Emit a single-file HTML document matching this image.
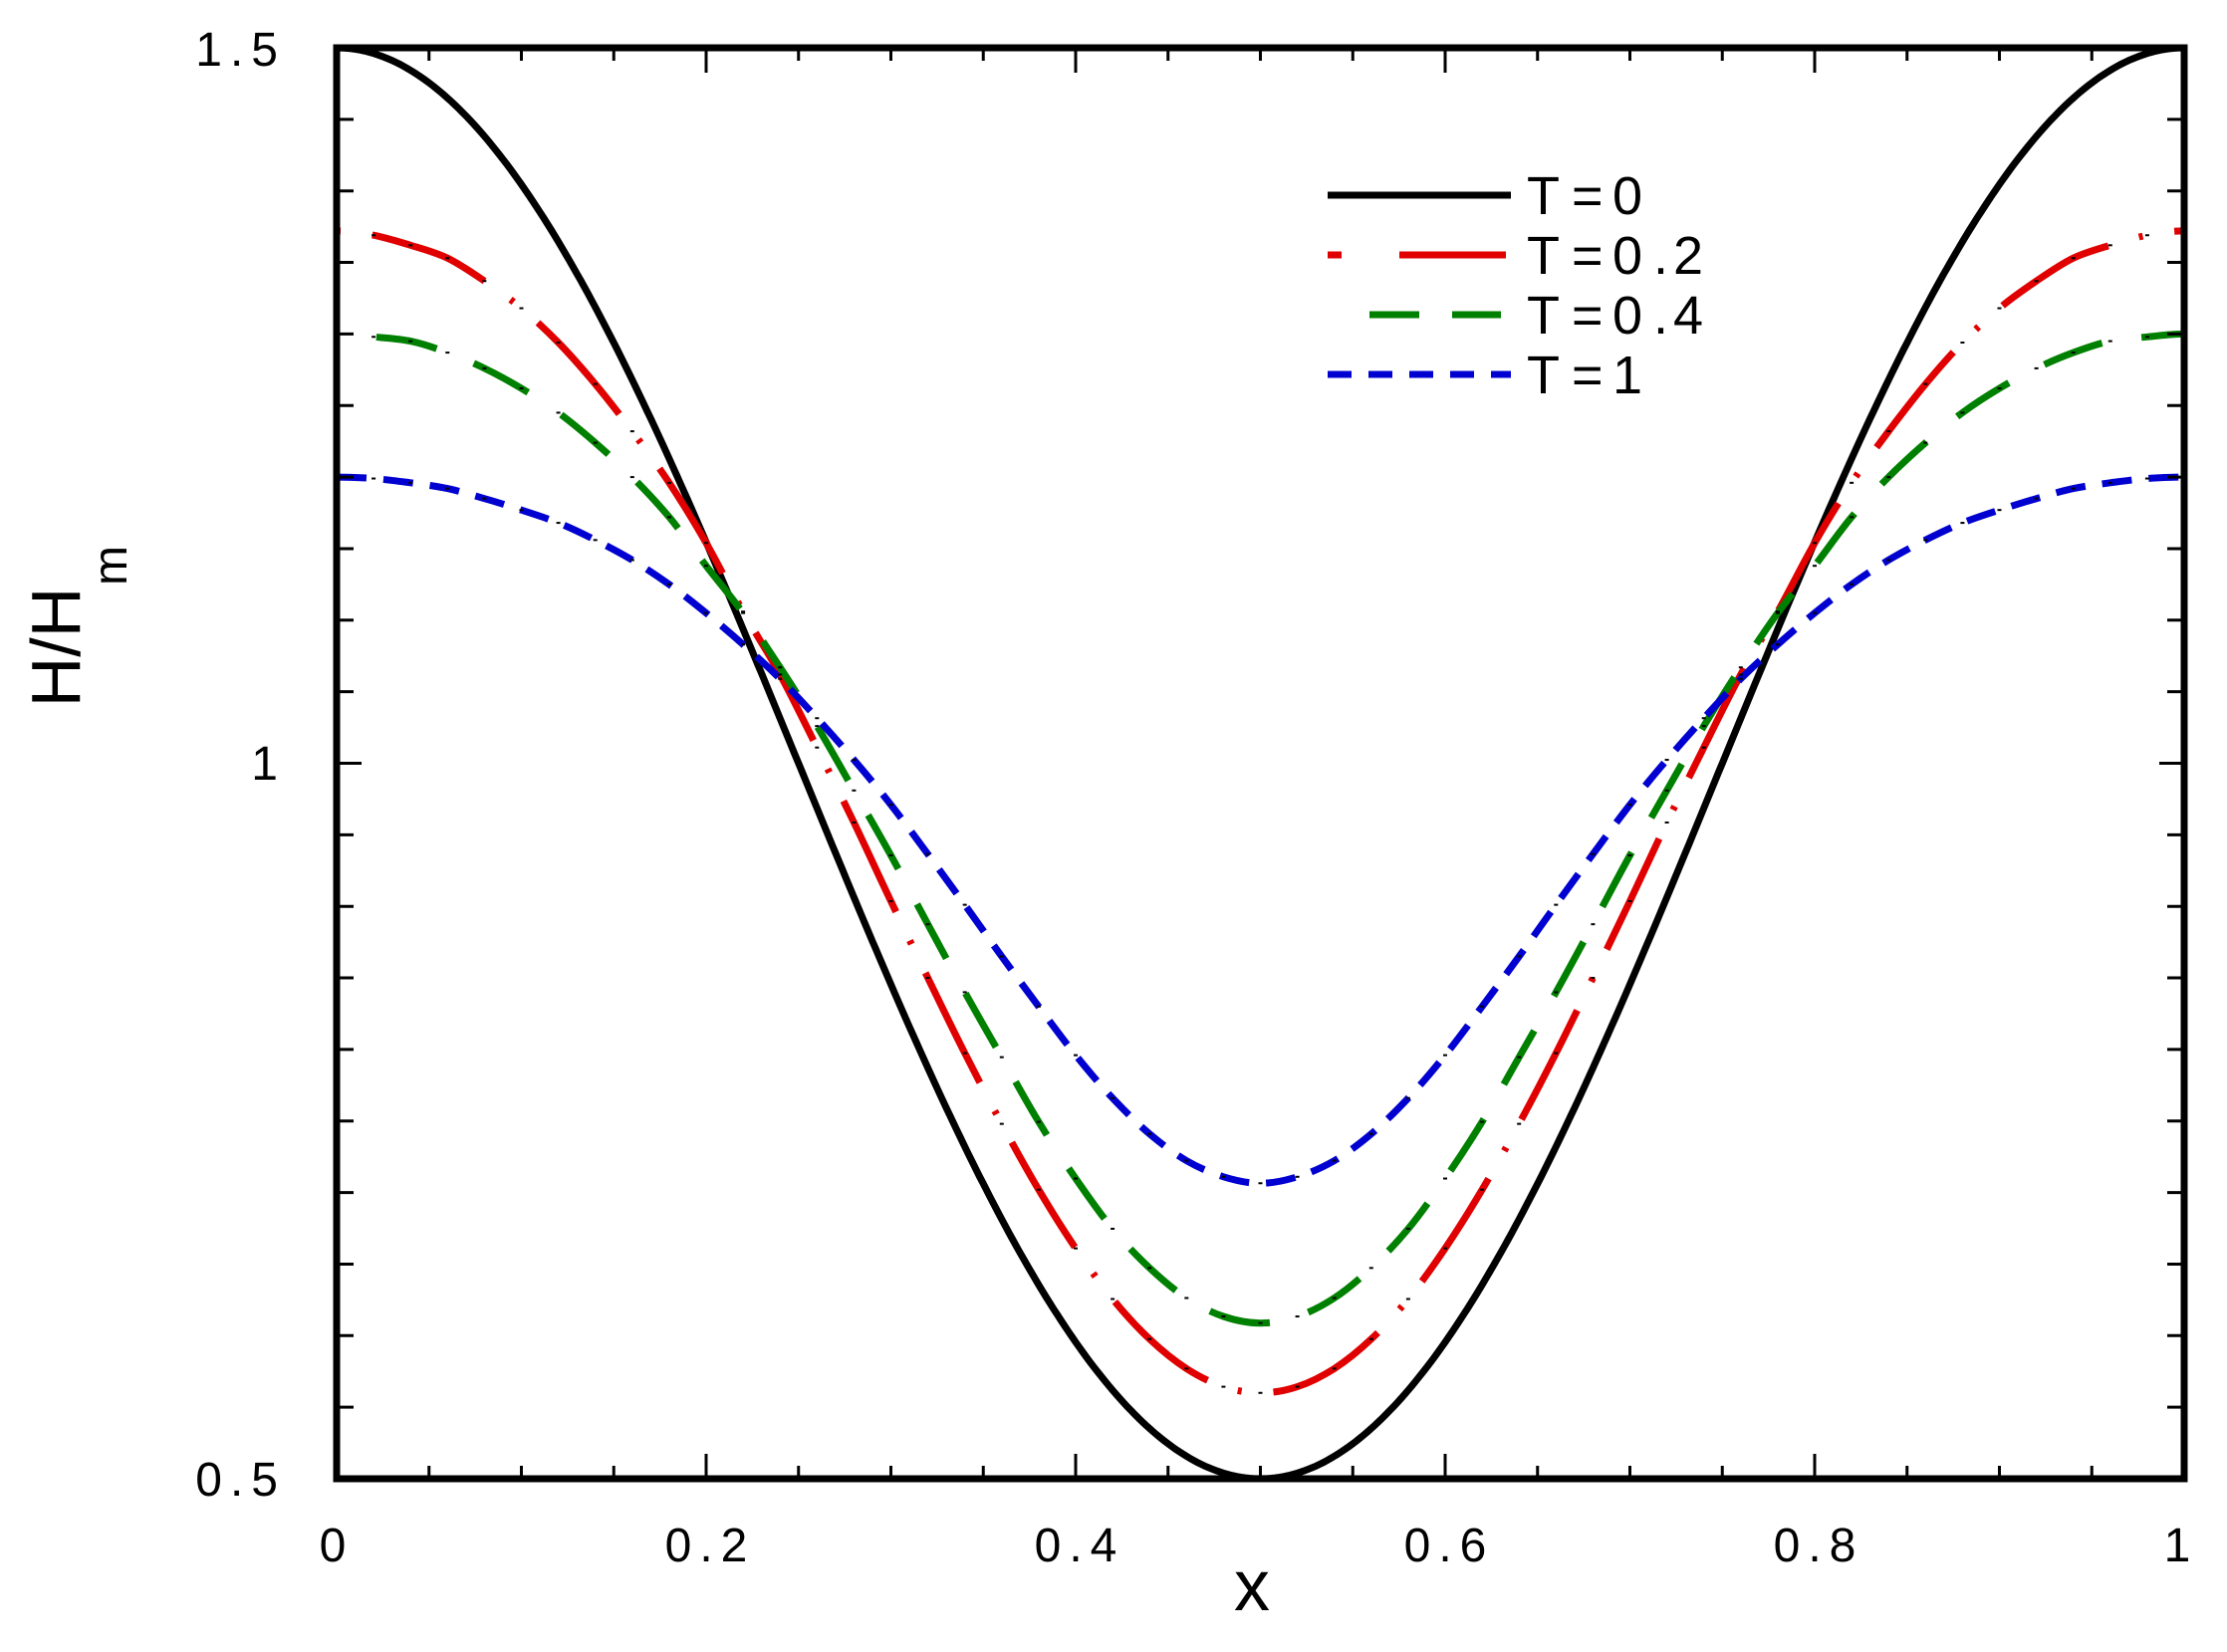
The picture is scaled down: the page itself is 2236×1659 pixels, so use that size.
<!DOCTYPE html>
<html><head><meta charset="utf-8"><style>
html,body{margin:0;padding:0;background:#fff;}
svg{display:block;}
text{font-family:"Liberation Sans",Arial,sans-serif;fill:#000;}
</style></head><body>
<svg id="s" width="2236" height="1659" viewBox="0 0 2236 1659" xmlns="http://www.w3.org/2000/svg">
<g id="curves" fill="none" stroke-width="7"></g>
<g id="nodes" fill="#000"></g>
<g id="ticks" stroke="#000" stroke-width="3"></g>
<rect x="338" y="48" width="1855" height="1437" fill="none" stroke="#000" stroke-width="7"/>
<g font-size="48" letter-spacing="8">
<text x="287" y="66" text-anchor="end">1.5</text>
<text x="287" y="783" text-anchor="end">1</text>
<text x="287" y="1502" text-anchor="end">0.5</text>
<text x="338" y="1568" text-anchor="middle">0</text>
<text x="713" y="1568" text-anchor="middle">0.2</text>
<text x="1084" y="1568" text-anchor="middle">0.4</text>
<text x="1455" y="1568" text-anchor="middle">0.6</text>
<text x="1826" y="1568" text-anchor="middle">0.8</text>
<text x="2190" y="1568" text-anchor="middle">1</text>
</g>
<text x="1257" y="1617" font-size="72" text-anchor="middle">x</text>
<text transform="translate(80,650) rotate(-90)" font-size="70" text-anchor="middle">H/H</text>
<text transform="translate(127,568) rotate(-90)" font-size="48" text-anchor="middle">m</text>
<g stroke-width="7">
<line x1="1333" y1="196" x2="1517" y2="196" stroke="#000"/>
<line x1="1333" y1="256" x2="1347" y2="256" stroke="#e00000"/>
<line x1="1405" y1="256" x2="1512" y2="256" stroke="#e00000"/>
<line x1="1375" y1="316" x2="1425" y2="316" stroke="#008000"/>
<line x1="1458" y1="316" x2="1507" y2="316" stroke="#008000"/>
<line x1="1333" y1="376" x2="1517" y2="376" stroke="#0000d0" stroke-dasharray="24 17"/>
</g>
<g font-size="54">
<text x="1533 1578 1619" y="215">T=0</text>
<text x="1533 1578 1619 1660 1680" y="275">T=0.2</text>
<text x="1533 1578 1619 1660 1680" y="335">T=0.4</text>
<text x="1533 1578 1619" y="395">T=1</text>
</g>
</svg>
<script>
(function(){
var X0=338,X1=2193,Y0=48,Y1=1485;
function px(x){return X0+x*(X1-X0);}
function py(h){return Y1-(h-0.5)*(Y1-Y0);}
var red=[1.372,1.369,1.362,1.353,1.337,1.318,1.294,1.265,1.232,1.196,1.154,1.106,1.062,1.011,.9586,.9036,.850,.7974,.748,.702,.661,.6256,.5976,.577,.5643,.560];
var green=[1.300,1.298,1.295,1.287,1.276,1.262,1.245,1.224,1.200,1.172,1.138,1.105,1.067,1.026,.981,.9356,.8875,.840,.7946,.7494,.7098,.6747,.6473,.6263,.6134,.6088];
var blue=[1.200,1.199,1.196,1.192,1.185,1.177,1.168,1.156,1.142,1.125,1.105,1.083,1.059,1.0315,1.0024,.971,.9365,.9011,.865,.830,.796,.766,.741,.7223,.711,.7065];
function full(a){var r=a.slice();for(var k=24;k>=0;k--)r.push(a[k]);return r;}
var NS="http://www.w3.org/2000/svg";
var g=document.getElementById("curves"),nd=document.getElementById("nodes");
var p="";
for(var i=0;i<=500;i++){var x=i/500;var h=1+0.5*Math.cos(2*Math.PI*x);
 p+=(i?"L":"M")+px(x).toFixed(1)+","+py(h).toFixed(1);}
var e=document.createElementNS(NS,"path");e.setAttribute("d",p);e.setAttribute("stroke","#000");g.appendChild(e);
var ser=[[full(red),"#e00000","123 32 4 32","155"],[full(green),"#008000","62 40","62"],[full(blue),"#0000d0","30 17","0"]];
ser.forEach(function(s){
 var v=s[0],n=v.length,P=[];
 for(var k=0;k<n;k++)P.push([px(k*0.02),py(v[k])]);
 function pt(k){ if(k<0){return [2*P[0][0]-P[1][0],P[1][1]];} if(k>=n){return [2*P[n-1][0]-P[n-2][0],P[n-2][1]];} return P[k];}
 var d="M"+P[0][0].toFixed(1)+","+P[0][1].toFixed(1);
 for(var k=0;k<n-1;k++){
  var p0=pt(k-1),p1=P[k],p2=P[k+1],p3=pt(k+2);
  var c1=[p1[0]+(p2[0]-p0[0])/6,p1[1]+(p2[1]-p0[1])/6];
  var c2=[p2[0]-(p3[0]-p1[0])/6,p2[1]-(p3[1]-p1[1])/6];
  d+="C"+c1[0].toFixed(1)+","+c1[1].toFixed(1)+" "+c2[0].toFixed(1)+","+c2[1].toFixed(1)+" "+p2[0].toFixed(1)+","+p2[1].toFixed(1);
 }
 for(var k=0;k<n;k++){
  var r=document.createElementNS(NS,"rect");r.setAttribute("x",P[k][0]-2);r.setAttribute("y",P[k][1]-1);
  r.setAttribute("width",4);r.setAttribute("height",2);nd.appendChild(r);}
 var e=document.createElementNS(NS,"path");
 e.setAttribute("d",d);e.setAttribute("stroke",s[1]);e.setAttribute("stroke-dasharray",s[2]);
 e.setAttribute("stroke-dashoffset",s[3]);
 g.appendChild(e);
});
var t=document.getElementById("ticks"),dd="";
for(var i=1;i<20;i++){var x=px(i*0.05);var L=(i%4==0)?25:13;
 dd+="M"+x+","+Y1+"v"+(-L)+"M"+x+","+Y0+"v"+L;}
for(var i=1;i<20;i++){var y=py(0.5+i*0.05);var L=(i%10==0)?25:17;
 dd+="M"+X0+","+y+"h"+L+"M"+X1+","+y+"h"+(-L);}
var e2=document.createElementNS(NS,"path");
e2.setAttribute("d",dd);t.appendChild(e2);
})();
</script>
</body></html>
